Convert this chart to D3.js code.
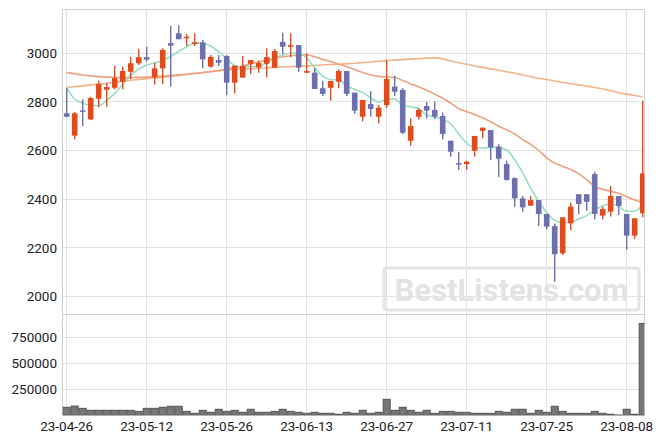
<!DOCTYPE html>
<html><head><meta charset="utf-8">
<script src="https://cdn.jsdelivr.net/npm/d3@7/dist/d3.min.js"></script>
<style>
html,body{margin:0;padding:0;background:#fff;}
svg{display:block;font-family:Roboto,"Noto Sans",sans-serif;}
</style></head>
<body><svg id="c" width="663" height="444"></svg>
<script>
const dates = ["23-04-26","23-04-27","23-04-28","23-05-02","23-05-03","23-05-04","23-05-08","23-05-09","23-05-10","23-05-11",
"23-05-12","23-05-15","23-05-16","23-05-17","23-05-18","23-05-19","23-05-22","23-05-23","23-05-24","23-05-25",
"23-05-26","23-05-30","23-05-31","23-06-01","23-06-02","23-06-05","23-06-07","23-06-08","23-06-09","23-06-12",
"23-06-13","23-06-14","23-06-15","23-06-16","23-06-19","23-06-20","23-06-21","23-06-22","23-06-23","23-06-26",
"23-06-27","23-06-28","23-06-29","23-06-30","23-07-03","23-07-04","23-07-05","23-07-06","23-07-07","23-07-10",
"23-07-11","23-07-12","23-07-13","23-07-14","23-07-17","23-07-18","23-07-19","23-07-20","23-07-21","23-07-24",
"23-07-25","23-07-26","23-07-27","23-07-28","23-07-31","23-08-01","23-08-02","23-08-03","23-08-04","23-08-07",
"23-08-08","23-08-09","23-08-10"];
const open = [2753,2661,2765,2728,2813,2850,2858,2883,2924,2959, 2984,2901,2938,3042,3082,3062,3038,3045,2945,2972,
2989,2879,2900,2957,2942,2957,2941,3047,3027,3034, 2920,2920,2856,2858,2883,2927,2838,2739,2791,2739,
2787,2863,2849,2640,2739,2783,2767,2742,2640,2548, 2544,2599,2681,2684,2616,2544,2486,2403,2373,2396,
2339,2289,2177,2300,2420,2420,2503,2332,2348,2413, 2339,2250,2342];
const high = [2857,2758,2811,2821,2887,2878,2948,2945,2986,3018, 3027,2961,3021,3112,3115,3079,3082,3055,2993,2993,
2992,2949,2989,2972,2970,3021,3018,3085,3082,3034, 3000,2938,2886,2886,2934,2927,2838,2808,2845,2787,
2972,2908,2856,2733,2774,2801,2801,2756,2640,2595, 2558,2660,2694,2684,2626,2558,2490,2413,2413,2396,
2339,2300,2325,2385,2420,2420,2513,2369,2454,2413, 2339,2321,2805];
const low = [2737,2646,2701,2725,2778,2780,2852,2852,2894,2952, 2965,2872,2874,2863,3058,3030,3030,2938,2941,2948,
2828,2835,2900,2914,2920,2901,2941,2996,2984,2924, 2920,2853,2824,2805,2856,2824,2750,2719,2739,2712,
2775,2824,2667,2620,2728,2733,2730,2646,2575,2520, 2520,2575,2650,2561,2490,2476,2369,2348,2373,2289,
2276,2060,2170,2273,2339,2352,2317,2317,2328,2335, 2191,2236,2325];
const close = [2739,2753,2760,2816,2874,2861,2898,2927,2959,2984, 2974,2938,3014,3031,3058,3068,3045,2975,2985,2961,
2879,2949,2948,2972,2960,2984,3009,3027,3034,2941, 2927,2853,2833,2886,2927,2833,2764,2808,2771,2776,
2894,2842,2673,2701,2767,2764,2739,2668,2595,2545, 2554,2660,2694,2613,2566,2479,2403,2366,2396,2339,
2287,2173,2325,2369,2380,2389,2339,2359,2413,2372, 2250,2321,2506];
const volume = [77000,89000,67000,48000,48000,48000,48000,48000,48000,38000, 67000,67000,77000,87000,87000,38000,19000,48000,29000,58000,
38000,48000,29000,58000,29000,29000,38000,58000,38000,29000, 19000,29000,19000,19000,10000,29000,19000,48000,19000,29000,
154000,48000,77000,48000,29000,48000,19000,38000,38000,29000, 29000,19000,19000,19000,38000,29000,58000,58000,19000,48000,
29000,87000,38000,19000,19000,19000,38000,19000,10000,3000, 58000,10000,885000];
const ma5 = [2858,2812,2795,2785,2785,2805,2835,2872,2910,2935, 2952,2960,2970,2987,3008,3027,3043,3041,3030,3006,
2979,2950,2945,2945,2946,2960,2980,2993,3000,3000, 2980,2940,2906,2892,2890,2865,2852,2839,2817,2800,
2810,2812,2786,2780,2772,2746,2738,2728,2710,2668, 2630,2612,2609,2613,2612,2602,2562,2508,2445,2390,
2345,2312,2304,2305,2318,2332,2355,2372,2380,2370, 2350,2350,2378];
const ma20 = [2921,2916,2911,2907,2904,2902,2901,2900,2900,2901, 2902,2904,2906,2908,2911,2914,2917,2920,2924,2929,
2935,2941,2948,2956,2964,2972,2980,2986,2990,2992, 2993,2986,2975,2966,2955,2945,2933,2921,2911,2905,
2903,2901,2888,2874,2862,2848,2832,2815,2795,2772, 2760,2748,2735,2718,2700,2685,2668,2645,2625,2600,
2570,2548,2535,2522,2505,2480,2452,2440,2432,2424, 2410,2396,2386];
const ma120 = [2860,2863,2866,2870,2873,2877,2881,2885,2889,2892, 2895,2898,2902,2905,2909,2913,2917,2921,2925,2928,
2931,2933,2935,2937,2938,2940,2942,2944,2945,2947, 2948,2950,2952,2954,2955,2957,2959,2962,2964,2967,
2970,2972,2974,2976,2978,2980,2981,2977,2968,2961, 2955,2948,2942,2936,2930,2924,2918,2911,2904,2897,
2892,2886,2880,2875,2870,2865,2859,2853,2846,2838, 2832,2826,2821];
const priceTicks = [2000,2200,2400,2600,2800,3000];
const volTicks = [250000,500000,750000];
const dateTicks = ["23-04-26","23-05-12","23-05-26","23-06-13","23-06-27","23-07-11","23-07-25","23-08-08"];

const W=663,H=444;
const L=62.3,R=644.3,T=9.3,MID=314.3,B=415.3;
const UP="#e64a19",DOWN="#6c70b0";
const svg=d3.select("#c");
const x=d3.scaleBand().domain(dates).range([62.7,62.7+8*dates.length]).padding(0);
const xc=d=>x(d)+x.bandwidth()/2;
const y=d3.scaleLinear().domain([1926,3181]).range([MID,T]);
const yv=d3.scaleLinear().domain([0,973000]).range([B,MID]);

const defs=svg.append("defs");
defs.append("clipPath").attr("id","cp").append("rect").attr("x",L).attr("y",T).attr("width",R-L).attr("height",MID-T);
defs.append("clipPath").attr("id","cv").append("rect").attr("x",L).attr("y",MID).attr("width",R-L).attr("height",B-MID);

const grid=svg.append("g").attr("stroke","#e2e2e2").attr("stroke-width",1).attr("shape-rendering","crispEdges");
priceTicks.forEach(t=>grid.append("line").attr("x1",L).attr("x2",R).attr("y1",y(t)).attr("y2",y(t)));
volTicks.forEach(t=>grid.append("line").attr("x1",L).attr("x2",R).attr("y1",yv(t)).attr("y2",yv(t)));
dateTicks.forEach(t=>grid.append("line").attr("x1",xc(t)).attr("x2",xc(t)).attr("y1",T).attr("y2",B));

// watermark
const wm=svg.append("g");
wm.append("rect").attr("x",384).attr("y",268).attr("width",255).attr("height",42).attr("rx",3)
 .attr("fill","none").attr("stroke","#e3e3e3").attr("stroke-width",3);
wm.append("text").attr("x",511.5).attr("y",301).attr("text-anchor","middle").attr("font-size",31).attr("font-weight",700)
 .attr("fill","#e3e3e3").text("BestListens.com");

// frame
const fr=svg.append("g").attr("stroke","#d0d0d0").attr("fill","none").attr("shape-rendering","crispEdges");
fr.append("rect").attr("x",L).attr("y",T).attr("width",R-L).attr("height",B-T);
fr.append("line").attr("x1",L).attr("x2",R).attr("y1",MID).attr("y2",MID);

// MA lines
const idx=d3.range(dates.length);
const lineOf=arr=>d3.line().x(i=>xc(dates[i])).y(i=>y(arr[i])).curve(d3.curveMonotoneX)(idx);
const pg=svg.append("g").attr("clip-path","url(#cp)");
pg.append("path").attr("d",lineOf(ma120)).attr("fill","none").attr("stroke","#f2b48a").attr("stroke-width",1.6);
pg.append("path").attr("d",lineOf(ma20)).attr("fill","none").attr("stroke","#eea07e").attr("stroke-width",1.6);
pg.append("path").attr("d",lineOf(ma5)).attr("fill","none").attr("stroke","#98dec6").attr("stroke-width",1.6);

// candles
const bw=5.6;
const cg=pg.append("g");
idx.forEach(i=>{
  const col=close[i]>=open[i]?UP:DOWN;
  const cx=xc(dates[i]);
  cg.append("line").attr("x1",cx).attr("x2",cx).attr("y1",y(high[i])).attr("y2",y(low[i])).attr("stroke",col).attr("stroke-width",1.4);
  const top=y(Math.max(open[i],close[i])),bot=y(Math.min(open[i],close[i]));
  cg.append("rect").attr("x",cx-bw/2).attr("y",top).attr("width",bw).attr("height",Math.max(1.5,bot-top)).attr("fill",col);
});

// volume
const vg=svg.append("g").attr("clip-path","url(#cv)");
idx.forEach(i=>{
  vg.append("rect").attr("x",x(dates[i])+0.5).attr("y",yv(volume[i])).attr("width",x.bandwidth()-1).attr("height",B-yv(volume[i]))
   .attr("fill","#777").attr("stroke","#555").attr("stroke-width",1);
});

// labels
const lab=svg.append("g").attr("fill","#222").attr("font-size",13.5);
priceTicks.forEach(t=>lab.append("text").attr("x",57).attr("y",y(t)).attr("dy","0.36em").attr("text-anchor","end").text(t));
volTicks.forEach(t=>lab.append("text").attr("x",57).attr("y",yv(t)).attr("dy","0.36em").attr("text-anchor","end").text(t));
dateTicks.forEach(t=>lab.append("text").attr("x",xc(t)).attr("y",431).attr("text-anchor","middle").text(t));
</script></body></html>
